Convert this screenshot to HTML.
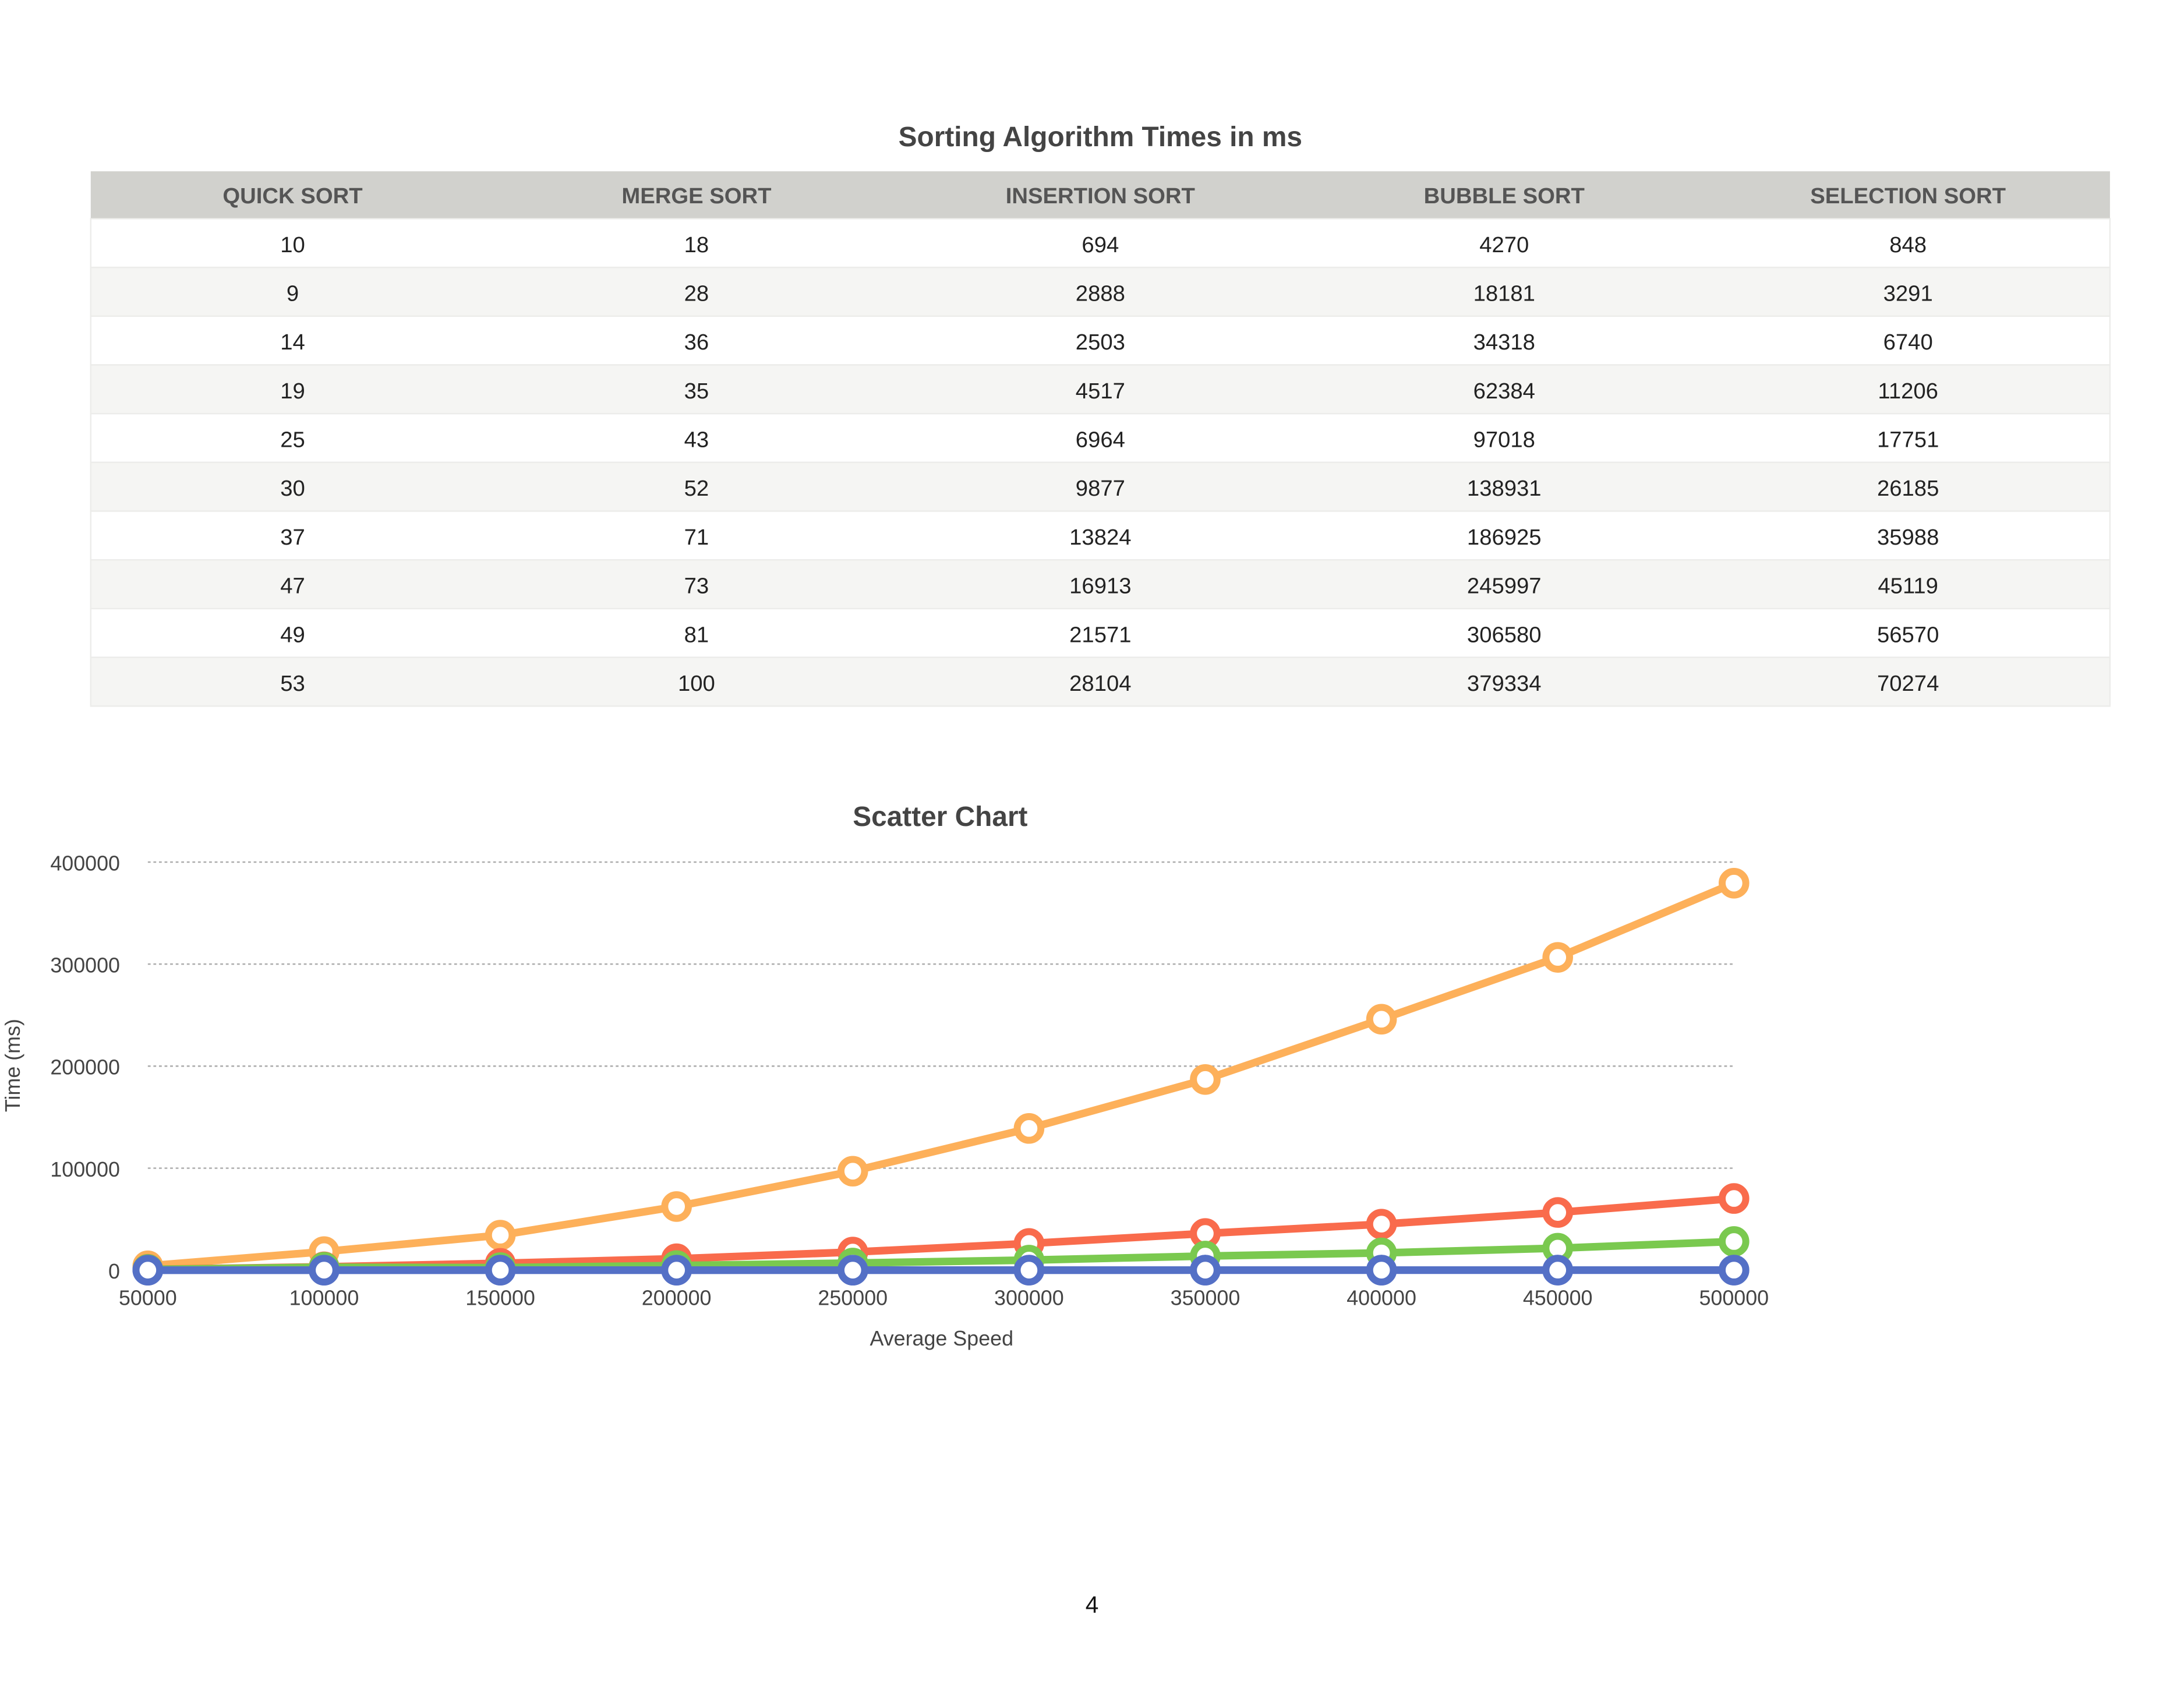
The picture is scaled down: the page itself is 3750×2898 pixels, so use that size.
<!DOCTYPE html>
<html><head><meta charset="utf-8"><style>
html,body{margin:0;padding:0;background:#fff;}
svg{display:block;font-family:"Liberation Sans",Arial,sans-serif;}
</style></head><body>
<svg id="root" width="3750" height="2898" viewBox="0 0 1568 1212" xmlns="http://www.w3.org/2000/svg">
<text x="790" y="105" text-anchor="middle" font-size="20" font-weight="bold" fill="#444">Sorting Algorithm Times in ms</text>
<g id="table"></g>
<text x="675" y="593" text-anchor="middle" font-size="20" font-weight="bold" fill="#444">Scatter Chart</text>
<g id="chart"></g>
<text x="676" y="966" text-anchor="middle" font-size="15" fill="#444">Average Speed</text>
<text transform="translate(14,765) rotate(-90)" text-anchor="middle" font-size="15" fill="#444">Time (ms)</text>
<text x="784" y="1158" text-anchor="middle" font-size="17" fill="#111">4</text>
</svg>
<script>
const headers = ["QUICK SORT","MERGE SORT","INSERTION SORT","BUBBLE SORT","SELECTION SORT"];
const xValues = [50000,100000,150000,200000,250000,300000,350000,400000,450000,500000];
const quick = [10,9,14,19,25,30,37,47,49,53];
const merge = [18,28,36,35,43,52,71,73,81,100];
const insertion = [694,2888,2503,4517,6964,9877,13824,16913,21571,28104];
const bubble = [4270,18181,34318,62384,97018,138931,186925,245997,306580,379334];
const selection = [848,3291,6740,11206,17751,26185,35988,45119,56570,70274];
const yTicks = [0,100000,200000,300000,400000];
const xTicks = [50000,100000,150000,200000,250000,300000,350000,400000,450000,500000];

const NS="http://www.w3.org/2000/svg";
function mk(tag,attrs,parent,txt){const e=document.createElementNS(NS,tag);for(const k in attrs)e.setAttribute(k,attrs[k]);if(txt!==undefined)e.textContent=txt;parent.appendChild(e);return e;}

const tg=document.getElementById('table');
const cols=[quick,merge,insertion,bubble,selection];
const tx0=65,tw=1450,cw=tw/5,hy=123,hh=34,rh=35;
let hb=mk('rect',{x:tx0,y:hy,width:tw,height:hh,fill:'#d1d1cd'},tg);


mk('line',{x1:tx0,x2:tx0+tw,y1:hy+hh,y2:hy+hh,stroke:'#b8b8b4','stroke-width':1.2},tg);
headers.forEach((h,i)=>{
  const t=mk('text',{x:tx0+cw*i+cw/2,y:hy+23,'text-anchor':'middle','font-size':16,'font-weight':'bold',fill:'#555'},tg,h);
  
  
});
for(let r=0;r<quick.length;r++){
  const y=hy+hh+r*rh;
  const row=mk('rect',{x:tx0,y:y,width:tw,height:rh,fill:r%2?'#f5f5f3':'#fff',stroke:'#ececea','stroke-width':1},tg);
  
  
  cols.forEach((c,i)=>{
    const t=mk('text',{x:tx0+cw*i+cw/2,y:y+24,'text-anchor':'middle','font-size':16,fill:'#222'},tg,String(c[r]));
    
    
  });
}

const cg=document.getElementById('chart');
const px0=106,px1=1245,py0=912,py1=619;
const xs=v=>px0+(v-50000)/(450000)*(px1-px0);
const ys=v=>py0-v/400000*(py0-py1);
yTicks.forEach(v=>{
  if(v>0){const g=mk('line',{x1:px0,x2:px1,y1:ys(v),y2:ys(v),stroke:'#aaa','stroke-width':1,'stroke-dasharray':'2,2'},cg);
  
  }
  const t=mk('text',{x:86,y:ys(v)+6,'text-anchor':'end','font-size':15,fill:'#444'},cg,String(v));
  
  
});
xTicks.forEach(v=>{
  const t=mk('text',{x:xs(v),y:937,'text-anchor':'middle','font-size':15,fill:'#444'},cg,String(v));
  
  
});
const series=[[bubble,'#fdb05a','bubble-sort'],[selection,'#f96b4c','selection-sort'],[insertion,'#7ac94f','insertion-sort'],[merge,'#7b7fd0','merge-sort'],[quick,'#5470c6','quick-sort']];
series.forEach(([d,c,n])=>{
  const g=mk('g',{},cg);
  
  
  const pl=mk('polyline',{points:d.map((v,i)=>xs(xValues[i])+','+ys(v)).join(' '),fill:'none',stroke:c,'stroke-width':5.5,'stroke-linejoin':'round'},g);
  
  
  d.forEach((v,i)=>{
    const p=mk('circle',{cx:xs(xValues[i]),cy:ys(v),r:8.5,fill:'#fff',stroke:c,'stroke-width':5},g);
    
    
  });
});
</script>
</body></html>
